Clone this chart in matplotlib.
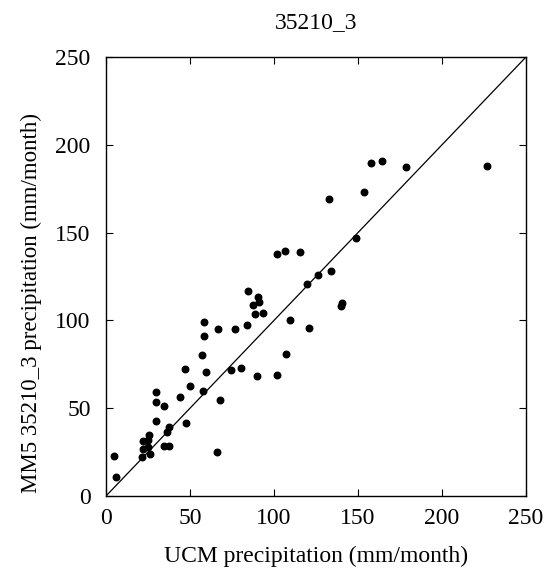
import matplotlib
matplotlib.use("Agg")
import matplotlib.pyplot as plt

plt.rcParams['font.family'] = ['Liberation Serif', 'DejaVu Serif']

# UCM (x) vs MM5 (y) monthly precipitation, mm/month
ucm = [4.8, 5.8, 21.2, 21.8, 21.8, 25.6, 24.8, 26.2, 25.2, 29.6,
       29.8, 29.6, 34.7, 34.7, 37.3, 36.1, 37.7, 44.0, 47.4, 46.8,
       50.0, 57.1, 59.5, 57.9, 67.7, 66.1, 74.4, 80.2, 90.0, 101.8,
       107.1, 58.3, 58.3, 66.5, 77.0, 83.9, 84.3, 87.3, 90.5, 91.3,
       88.9, 93.5, 109.7, 121.0, 102.0, 106.5, 115.3, 119.4, 126.4, 133.8,
       140.5, 140.1, 132.7, 148.6, 157.5, 164.1, 178.6, 227.0, 153.8]
mm5 = [23.0, 11.0, 22.0, 26.6, 31.5, 34.7, 28.0, 23.7, 31.9, 59.0,
       53.5, 42.5, 51.4, 28.5, 28.5, 36.3, 39.5, 56.2, 41.6, 72.5,
       62.8, 80.3, 70.4, 59.8, 54.7, 24.9, 71.9, 72.9, 68.5, 68.7,
       81.0, 91.3, 99.1, 94.9, 95.3, 97.6, 116.6, 108.8, 113.3, 110.5,
       103.8, 104.0, 100.2, 95.7, 137.8, 139.5, 139.1, 120.9, 126.0, 128.1,
       109.7, 108.4, 169.3, 147.1, 189.5, 191.0, 187.5, 187.7, 173.3]

lim = [0, 250]
ticks = [0, 50, 100, 150, 200, 250]

fig = plt.figure(figsize=(5.47, 5.74), dpi=100)
ax = fig.add_axes([0.1938, 0.1359, 0.7678, 0.7648])

ax.plot(lim, lim, color='black', linewidth=0.9)
ax.scatter(ucm, mm5, s=22, color='black', zorder=3)

ax.set_xlim(lim)
ax.set_ylim(lim)
ax.set_xticks(ticks)
ax.set_yticks(ticks)
ax.tick_params(direction='in', top=True, right=True, length=5, width=0.8,
               labelsize=17)
ax.tick_params(axis='x', pad=9)
ax.tick_params(axis='y', pad=11)
for s in ax.spines.values():
    s.set_linewidth(1.0)

ax.set_title("35210_3", fontsize=17, pad=21)
ax.set_xlabel("UCM precipitation (mm/month)", fontsize=17, labelpad=12)
ax.set_ylabel("MM5 35210_3 precipitation (mm/month)", fontsize=16.5)
ax.yaxis.set_label_coords(-0.152, 0.44)

fig.savefig("out.png", dpi=100)
